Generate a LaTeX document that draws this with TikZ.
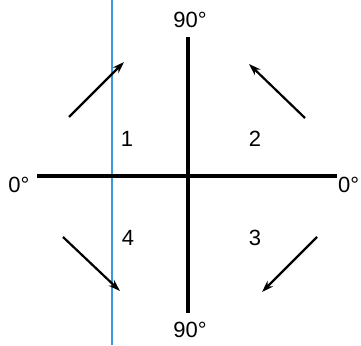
\documentclass[tikz,border=0pt]{standalone}
\usepackage{fontspec}
\setmainfont{Liberation Sans}
\usetikzlibrary{arrows.meta}

\begin{document}
\begin{tikzpicture}[x=1pt, y=-1pt, font=\fontsize{22}{26}\selectfont,
  axis/.style={line width=3.2pt, draw=black},
  arrow/.style={-{Stealth[length=12pt, width=8pt]}, line width=2.2pt, draw=black},
  lbl/.style={inner sep=0pt, anchor=center},
  rule/.style={line width=1.2pt, draw=cyan!70!blue!80}]
  \useasboundingbox (0,0) rectangle (361,345);
  % ruling line of the scan
  \coordinate (rtop) at (112,0);
  \coordinate (rbot) at (112,345);
  \draw[rule] (rtop)--(rbot);
  % axes
  \node[lbl] (n90) at (190,20) {90°};
  \node[lbl] (s90) at (190,330) {90°};
  \node[lbl] (w0) at (19,185) {0°};
  \node[lbl, anchor=west] (e0) at (338,185) {0°};
  \coordinate (ntip) at (188,37);
  \coordinate (stip) at (188,313);
  \coordinate (wtip) at (37,176);
  \coordinate (etip) at (337,176);
  \draw[axis] (ntip)--(stip);
  \draw[axis] (wtip)--(etip);
  % quadrants
  \node[lbl] (q1) at (127,139) {1};
  \node[lbl] (q2) at (255,139) {2};
  \node[lbl] (q3) at (255,238) {3};
  \node[lbl] (q4) at (128,238) {4};
  % arrows
  \coordinate (a1) at (69,117);  \coordinate (b1) at (124,62);
  \coordinate (a2) at (305,118); \coordinate (b2) at (249,64);
  \coordinate (a3) at (317,237); \coordinate (b3) at (262,292);
  \coordinate (a4) at (63,237);  \coordinate (b4) at (120,291);
  \draw[arrow] (a1)--(b1);
  \draw[arrow] (a2)--(b2);
  \draw[arrow] (a3)--(b3);
  \draw[arrow] (a4)--(b4);
\end{tikzpicture}
\end{document}
